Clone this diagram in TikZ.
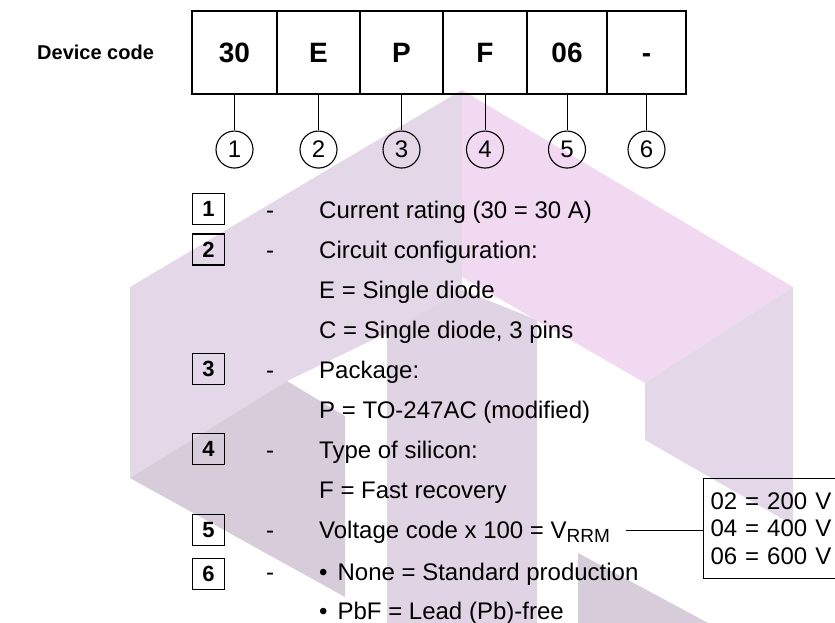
\documentclass[tikz,border=0pt]{standalone}
\usepackage{fontspec}
\setmainfont{Liberation Sans}
\usetikzlibrary{positioning}

\definecolor{wmroof}{RGB}{228,215,231}
\definecolor{wmpillar}{RGB}{224,211,227}
\definecolor{wmpink}{RGB}{241,217,241}
\definecolor{wmgray}{RGB}{215,204,218}

\begin{document}
\begin{tikzpicture}[
    x=1pt, y=-1pt,
    node distance=0pt,
    every node/.style={font=\fontsize{24}{27.5}\selectfont, inner sep=0pt},
    cell/.style={draw, line width=1.3pt, minimum height=82.5pt, outer sep=0pt, text height=20pt, text depth=0pt, font=\fontsize{28}{30}\selectfont\bfseries},
    ring/.style={draw, circle, line width=1.1pt, minimum size=37pt, font=\fontsize{24}{26}\selectfont},
    tag/.style={draw, line width=1.9pt, minimum width=32pt, minimum height=31pt, font=\fontsize{22}{24}\selectfont\bfseries},
    entry/.style={anchor=base west},
    wire/.style={line width=1pt}
]
\useasboundingbox (0,0) rectangle (835,623);
\clip (0,0) rectangle (835,623);
% faint logo behind
\fill[wmroof] (130,287) -- (462,90) -- (462,290) -- (387,333) -- (287,381) -- (130,478) -- cycle;
\fill[wmpillar] (387,623) -- (387,333) -- (462,290) -- (537,320) -- (537,623) -- cycle;
\fill[wmpink] (462,90) -- (793,287) -- (645,383) -- (462,277) -- cycle;
\fill[wmroof] (645,383) -- (793,287) -- (793,525) -- (645,440) -- cycle;
\fill[wmgray] (130,478) -- (287,381) -- (345,416) -- (345,597) -- cycle;
\fill[wmgray] (578,553) -- (708,623) -- (578,623) -- cycle;

% code fields
\node[anchor=west, font=\fontsize{20}{22}\selectfont\bfseries] (title) at (37,52.5) {Device code};
\node[cell, minimum width=85pt, anchor=north west] (c1) at (192,11.5) {30};
\node[cell, minimum width=83pt, right=of c1] (c2) {E};
\node[cell, minimum width=83pt, right=of c2] (c3) {P};
\node[cell, minimum width=84pt, right=of c3] (c4) {F};
\node[cell, minimum width=80pt, right=of c4] (c5) {06};
\node[cell, minimum width=79pt, right=of c5] (c6) {-};
\draw[line width=2pt] (c1.north west) rectangle (c6.south east);

\node[ring, below=36.5pt of c1] (r1) {1};
\node[ring, below=36.5pt of c2] (r2) {2};
\node[ring, below=36.5pt of c3] (r3) {3};
\node[ring, below=36.5pt of c4] (r4) {4};
\node[ring, below=36.5pt of c5] (r5) {5};
\node[ring, below=36.5pt of c6] (r6) {6};
\draw[wire] (c1) -- (r1);
\draw[wire] (c2) -- (r2);
\draw[wire] (c3) -- (r3);
\draw[wire] (c4) -- (r4);
\draw[wire] (c5) -- (r5);
\draw[wire] (c6) -- (r6);

% legend
\node[tag] (t1) at (208.5,209) {1};
\node[tag] (t2) at (208.5,249.5) {2};
\node[tag] (t3) at (208.5,369) {3};
\node[tag] (t4) at (208.5,449) {4};
\node[tag] (t5) at (208.5,530) {5};
\node[tag] (t6) at (208.5,574) {6};
\node[entry] (d1) at (266,218) {-};
\node[entry] (d2) at (266,258) {-};
\node[entry] (d3) at (266,378) {-};
\node[entry] (d4) at (266,458) {-};
\node[entry] (d5) at (266,538) {-};
\node[entry] (d6) at (266,580) {-};
\node[entry] (rating) at (319,218) {Current rating (30 = 30 A)};
\node[entry] (circuit) at (319,258) {Circuit configuration:};
\node[entry] (single) at (319,298) {E = Single diode};
\node[entry] (pins) at (319,338) {C = Single diode, 3 pins};
\node[entry] (package) at (319,378) {Package:};
\node[entry] (to247) at (319,418) {P = TO-247AC (modified)};
\node[entry] (silicon) at (319,458) {Type of silicon:};
\node[entry] (fast) at (319,498) {F = Fast recovery};
\node[entry] (vcode) at (319,538) {Voltage code x 100 = V\raisebox{-4pt}{\fontsize{19}{20}\selectfont RRM}};
\node[entry] (std) at (319,580) {•\hspace{10pt}None = Standard production};
\node[entry] (pbf) at (319,619) {•\hspace{10pt}PbF = Lead (Pb)-free};

% voltage table
\node[draw, line width=1.1pt, anchor=north west, text width=140pt, align=left, inner xsep=7pt, inner ysep=14pt] (vbox) at (703,478) {02 = 200 V\\04 = 400 V\\06 = 600 V};
\coordinate (tap) at (626,530);
\draw[wire] (tap) -- (tap -| vbox.west);
\end{tikzpicture}
\end{document}
